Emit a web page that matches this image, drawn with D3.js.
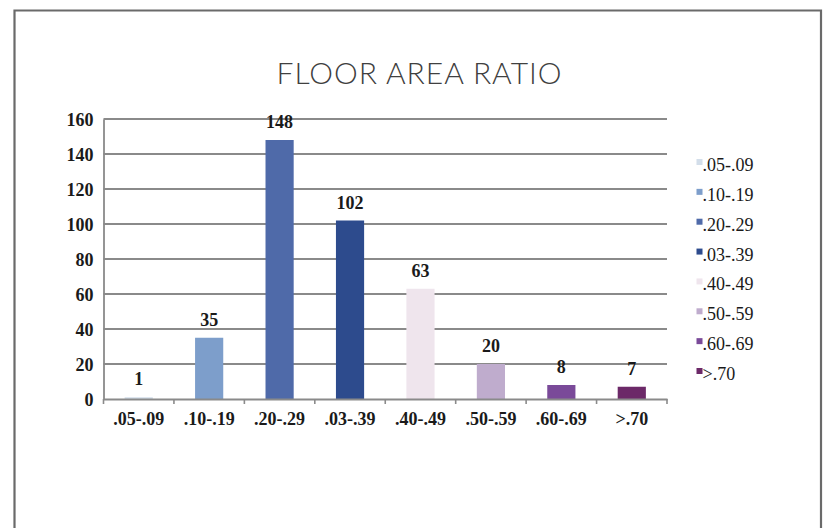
<!DOCTYPE html>
<html><head><meta charset="utf-8">
<script src="https://cdn.jsdelivr.net/npm/d3@7"></script>
<style>body{margin:0;background:#fff}svg{display:block}</style>
</head><body>
<script>
const categories = [".05-.09", ".10-.19", ".20-.29", ".03-.39", ".40-.49", ".50-.59", ".60-.69", ">.70"];
const values = [1, 35, 148, 102, 63, 20, 8, 7];
const colors = ["#d3deea", "#7d9ecb", "#4f6aa9", "#2d4b8d", "#efe5ed", "#bfaccd", "#7a4a99", "#6c2968"];
const yTicks = [0, 20, 40, 60, 80, 100, 120, 140, 160];
const title = "FLOOR AREA RATIO";

const W = 823, H = 528;
const svg = d3.select("body").append("svg").attr("width", W).attr("height", H);

svg.append("path").attr("d", `M14.5,${H} L14.5,10.5 L821,10.5 L821,${H}`)
  .attr("fill", "none").attr("stroke", "#6a6a6a").attr("stroke-width", 2.2);

svg.append("text").attr("x", 419).attr("y", 83.5).attr("text-anchor", "middle")
  .attr("font-family", "Lato, 'Open Sans', sans-serif").attr("font-weight", 300)
  .attr("font-size", 30).attr("fill", "#404040").attr("textLength", 285).text(title);

const x = d3.scaleBand().domain(categories).range([103.5, 667]).paddingInner(0.6).paddingOuter(0.3);
const y = d3.scaleLinear().domain([0, 160]).range([399, 119]);

const serif = "'Liberation Serif', 'Times New Roman', serif";

// gridlines
svg.append("g").selectAll("line").data(yTicks.slice(1)).join("line")
  .attr("x1", 103.5).attr("x2", 667).attr("y1", d => y(d)).attr("y2", d => y(d))
  .attr("stroke", "#8a8a8a").attr("stroke-width", 1.8);

// y axis
const yAxis = svg.append("g").attr("transform", "translate(103.5,0)")
  .call(d3.axisLeft(y).tickValues(yTicks).tickSize(0).tickPadding(10));
yAxis.select(".domain").attr("stroke", "#8a8a8a").attr("stroke-width", 1.8);
yAxis.selectAll("text").attr("font-family", serif).attr("font-size", 18).attr("fill", "#1a1a1a")
  .attr("font-weight", "bold").attr("dy", "0.35em");

// bars
svg.append("g").selectAll("rect").data(values).join("rect")
  .attr("x", (d, i) => x(categories[i])).attr("width", x.bandwidth())
  .attr("y", d => y(d)).attr("height", d => y(0) - y(d))
  .attr("fill", (d, i) => colors[i]);

// x axis
const xb = d3.scaleLinear().domain([0, categories.length]).range([103.5, 667]);
const xAxis = svg.append("g").attr("transform", `translate(0,${y(0)})`)
  .call(d3.axisBottom(x).tickSize(0).tickPadding(0).tickSizeOuter(0));
xAxis.select(".domain").attr("stroke", "#8a8a8a").attr("stroke-width", 1.8);
xAxis.selectAll("text").attr("font-family", serif).attr("font-size", 18).attr("fill", "#1a1a1a")
  .attr("font-weight", "bold").attr("y", 26).attr("dy", 0);
svg.append("g").selectAll("line").data(d3.range(categories.length + 1)).join("line")
  .attr("x1", d => xb(d)).attr("x2", d => xb(d)).attr("y1", y(0)).attr("y2", y(0) + 5)
  .attr("stroke", "#8a8a8a").attr("stroke-width", 1.6);

// value labels
svg.append("g").selectAll("text").data(values).join("text")
  .attr("x", (d, i) => x(categories[i]) + x.bandwidth() / 2)
  .attr("y", d => y(d) - 12)
  .attr("text-anchor", "middle").attr("font-family", serif).attr("font-size", 18)
  .attr("font-weight", "bold").attr("fill", "#1a1a1a").text(d => d);

// legend
const lg = svg.append("g");
const ly = d3.scalePoint().domain(categories).range([165, 374]);
lg.selectAll("rect").data(categories).join("rect")
  .attr("x", 696.5).attr("y", d => ly(d) - 6).attr("width", 6).attr("height", 6)
  .attr("fill", (d, i) => colors[i]);
lg.selectAll("text").data(categories).join("text")
  .attr("x", 702.5).attr("y", d => ly(d) + 6).attr("font-family", serif).attr("font-size", 18)
  .attr("fill", "#1a1a1a").text(d => d);
</script>
</body></html>
